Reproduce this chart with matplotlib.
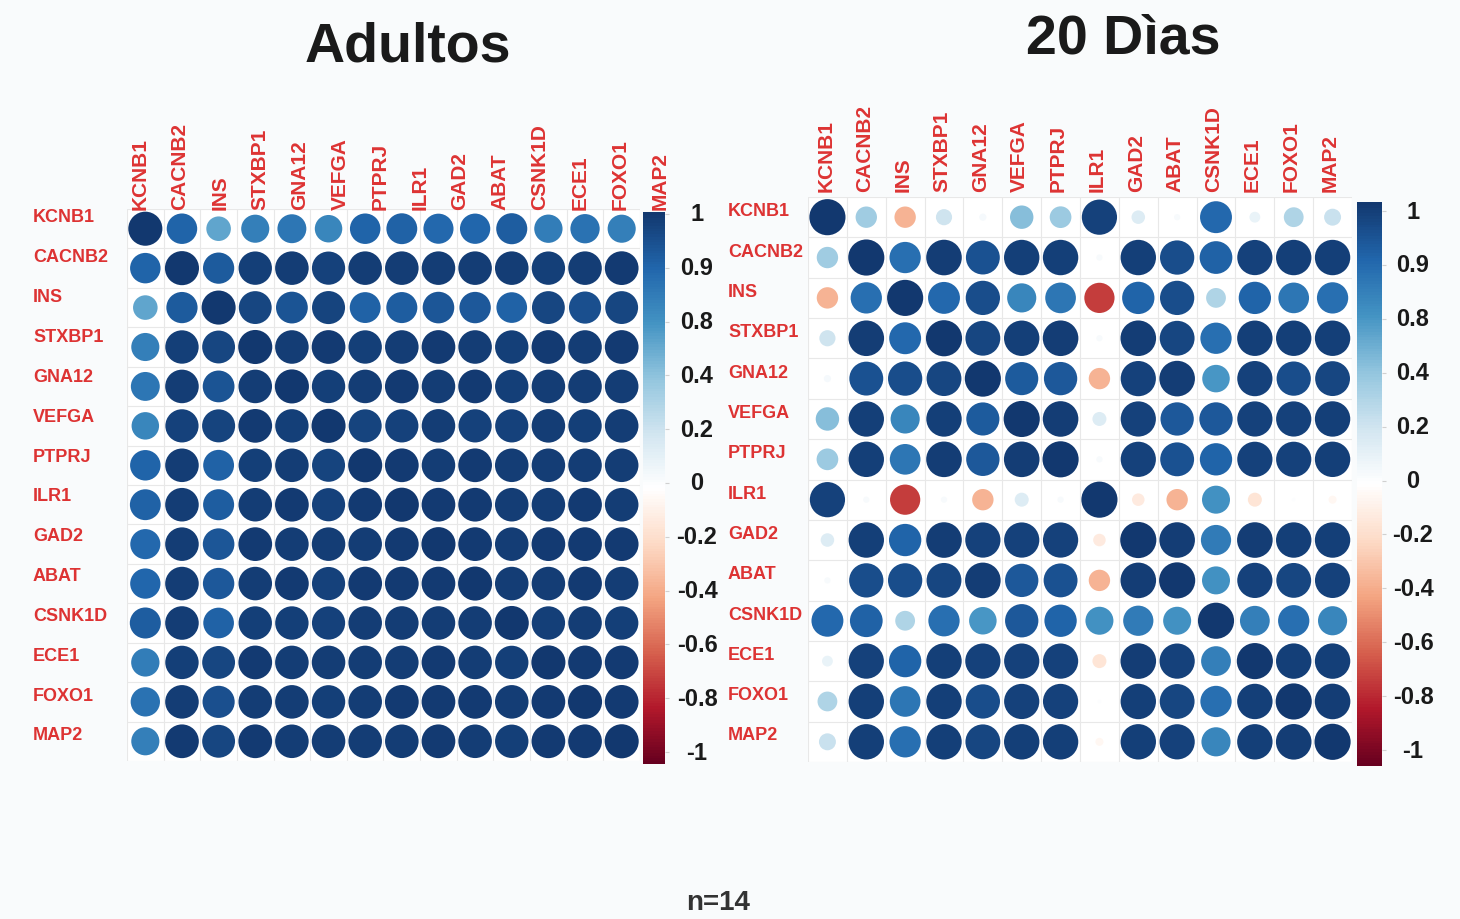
import numpy as np
import matplotlib
matplotlib.use("Agg")
import matplotlib.pyplot as plt
from matplotlib.colors import LinearSegmentedColormap, Normalize
from matplotlib.cm import ScalarMappable

# ---------------------------------------------------------------- data
genes = ["KCNB1", "CACNB2", "INS", "STXBP1", "GNA12", "VEFGA", "PTPRJ",
         "ILR1", "GAD2", "ABAT", "CSNK1D", "ECE1", "FOXO1", "MAP2"]

# Pearson correlations, adults
adultos = [
    [1.00, 0.80, 0.52, 0.68, 0.72, 0.65, 0.80, 0.82, 0.78, 0.79, 0.83, 0.69, 0.74, 0.68],
    [0.80, 1.00, 0.84, 0.96, 0.97, 0.95, 0.97, 0.97, 0.97, 0.97, 0.97, 0.96, 0.97, 0.98],
    [0.52, 0.84, 1.00, 0.93, 0.87, 0.94, 0.82, 0.83, 0.86, 0.85, 0.81, 0.93, 0.89, 0.93],
    [0.68, 0.96, 0.93, 1.00, 0.97, 0.98, 0.96, 0.97, 0.98, 0.97, 0.96, 0.98, 0.97, 0.98],
    [0.72, 0.97, 0.87, 0.97, 1.00, 0.96, 0.97, 0.98, 0.97, 0.98, 0.96, 0.97, 0.97, 0.97],
    [0.65, 0.95, 0.94, 0.98, 0.96, 1.00, 0.94, 0.95, 0.97, 0.95, 0.95, 0.97, 0.96, 0.97],
    [0.80, 0.97, 0.82, 0.96, 0.97, 0.94, 1.00, 0.98, 0.97, 0.98, 0.97, 0.97, 0.97, 0.97],
    [0.82, 0.97, 0.83, 0.97, 0.98, 0.95, 0.98, 1.00, 0.98, 0.98, 0.97, 0.97, 0.98, 0.97],
    [0.78, 0.97, 0.86, 0.98, 0.97, 0.97, 0.97, 0.98, 1.00, 0.98, 0.97, 0.98, 0.98, 0.98],
    [0.79, 0.97, 0.85, 0.97, 0.98, 0.95, 0.98, 0.98, 0.98, 1.00, 0.97, 0.97, 0.98, 0.97],
    [0.83, 0.97, 0.81, 0.96, 0.96, 0.95, 0.97, 0.97, 0.97, 0.97, 1.00, 0.96, 0.97, 0.96],
    [0.69, 0.96, 0.93, 0.98, 0.97, 0.97, 0.97, 0.97, 0.98, 0.97, 0.96, 1.00, 0.98, 0.98],
    [0.74, 0.97, 0.89, 0.97, 0.97, 0.96, 0.97, 0.98, 0.98, 0.98, 0.97, 0.98, 1.00, 0.98],
    [0.68, 0.98, 0.93, 0.98, 0.97, 0.97, 0.97, 0.97, 0.98, 0.97, 0.96, 0.98, 0.98, 1.00],
]

# Pearson correlations, 20 days
dias20 = [
    [1.00, 0.35, -0.35, 0.20, 0.04, 0.42, 0.36, 0.95, 0.14, 0.03, 0.78, 0.09, 0.30, 0.22],
    [0.35, 1.00, 0.75, 0.97, 0.88, 0.96, 0.96, 0.03, 0.96, 0.90, 0.82, 0.95, 0.96, 0.96],
    [-0.35, 0.75, 1.00, 0.78, 0.90, 0.65, 0.72, -0.70, 0.80, 0.90, 0.30, 0.80, 0.72, 0.75],
    [0.20, 0.97, 0.78, 1.00, 0.93, 0.96, 0.97, 0.03, 0.97, 0.93, 0.75, 0.96, 0.96, 0.96],
    [0.04, 0.88, 0.90, 0.93, 1.00, 0.84, 0.85, -0.35, 0.95, 0.97, 0.58, 0.95, 0.90, 0.93],
    [0.42, 0.96, 0.65, 0.96, 0.84, 1.00, 0.97, 0.15, 0.95, 0.85, 0.85, 0.95, 0.95, 0.96],
    [0.36, 0.96, 0.72, 0.97, 0.85, 0.97, 1.00, 0.03, 0.95, 0.88, 0.80, 0.95, 0.95, 0.96],
    [0.95, 0.03, -0.70, 0.03, -0.35, 0.15, 0.03, 1.00, -0.12, -0.35, 0.60, -0.15, 0.01, -0.05],
    [0.14, 0.96, 0.80, 0.97, 0.95, 0.95, 0.95, -0.12, 1.00, 0.97, 0.70, 0.97, 0.96, 0.96],
    [0.03, 0.90, 0.90, 0.93, 0.97, 0.85, 0.88, -0.35, 0.97, 1.00, 0.60, 0.95, 0.93, 0.95],
    [0.78, 0.82, 0.30, 0.75, 0.58, 0.85, 0.80, 0.60, 0.70, 0.60, 1.00, 0.68, 0.75, 0.65],
    [0.09, 0.95, 0.80, 0.96, 0.95, 0.95, 0.95, -0.15, 0.97, 0.95, 0.68, 1.00, 0.96, 0.96],
    [0.30, 0.96, 0.72, 0.96, 0.90, 0.95, 0.95, 0.01, 0.96, 0.93, 0.75, 0.96, 1.00, 0.97],
    [0.22, 0.96, 0.75, 0.96, 0.93, 0.96, 0.96, -0.05, 0.96, 0.95, 0.65, 0.96, 0.97, 1.00],
]

cbar_labels = ["1", "0.9", "0.8", "0.4", "0.2", "0", "-0.2", "-0.4", "-0.6", "-0.8", "-1"]

# ---------------------------------------------------------------- style
W, H = 1460, 920
BG = "#f9fbfc"
RED = "#dd3333"
FONT = ["Liberation Sans", "DejaVu Sans"]
plt.rcParams["font.family"] = FONT

cmap = LinearSegmentedColormap.from_list(
    "rdbu_corr",
    ["#67001F", "#B2182B", "#D6604D", "#F4A582", "#FDDBC7", "#FFFFFF",
     "#D1E5F0", "#92C5DE", "#4393C3", "#2166AC", "#12386f"], N=200)
norm = Normalize(-1, 1)

fig = plt.figure(figsize=(W / 100, H / 100), dpi=100, facecolor=BG)


def px_box(x0, y0, x1, y1):
    return [x0 / W, 1 - y1 / H, (x1 - x0) / W, (y1 - y0) / H]


def draw_panel(mat, box, cbox, row_x, row_y, col_x, col_bottom,
               tick_cx, tick_y):
    n = len(genes)
    vals = np.array(mat)
    ax = fig.add_axes(px_box(*box))
    ax.set_facecolor("white")
    ax.set_xlim(-0.5, n - 0.5)
    ax.set_ylim(n - 0.5, -0.5)
    for k in range(n + 1):
        ax.axhline(k - 0.5, color="#e8e8e8", lw=0.8, zorder=1)
        ax.axvline(k - 0.5, color="#e8e8e8", lw=0.8, zorder=1)
    ax.set_xticks([])
    ax.set_yticks([])
    for s in ax.spines.values():
        s.set_visible(False)

    # circle area proportional to |r|
    cw = (box[2] - box[0]) / n
    ch = (box[3] - box[1]) / n
    d_pt = 0.93 * min(cw, ch) * 72 / 100
    xx, yy = np.meshgrid(np.arange(n), np.arange(n))
    ax.scatter(xx.ravel(), yy.ravel(), s=d_pt ** 2 * np.abs(vals).ravel(),
               c=vals.ravel(), cmap=cmap, norm=norm, linewidths=0, zorder=2)

    # gene labels
    for i, g in enumerate(genes):
        y = row_y[0] + i * (row_y[1] - row_y[0]) / (n - 1)
        fig.text(row_x / W, 1 - y / H, g, ha="left", va="center",
                 color=RED, fontsize=13, fontweight="bold")
        x = col_x[0] + i * (col_x[1] - col_x[0]) / (n - 1)
        fig.text(x / W, 1 - col_bottom / H, g, ha="center", va="bottom",
                 rotation=90, color=RED, fontsize=15, fontweight="bold")

    # colour legend
    cax = fig.add_axes(px_box(*cbox))
    cb = fig.colorbar(ScalarMappable(norm=norm, cmap=cmap), cax=cax)
    cb.outline.set_visible(False)
    k = len(cbar_labels)
    ys = [tick_y[0] + j * (tick_y[1] - tick_y[0]) / (k - 1) for j in range(k)]
    # label heights in pixels converted to colourbar values
    pos = [1 - 2 * (y - cbox[1]) / (cbox[3] - cbox[1]) for y in ys]
    cb.set_ticks(pos)
    cax.tick_params(length=3, color="#d0d0d0", labelright=False)
    tx = (tick_cx - cbox[0]) / (cbox[2] - cbox[0])
    for p, lab in zip(pos, cbar_labels):
        cax.text(tx, p, lab, transform=cax.get_yaxis_transform(),
                 ha="center", va="center", fontsize=17, fontweight="bold",
                 color="#1a1a1a")
    return ax


draw_panel(adultos, (127, 210, 640, 762), (643, 213, 665, 765),
           row_x=33, row_y=(218, 736), col_x=(140, 660), col_bottom=210,
           tick_cx=697, tick_y=(215, 753))
draw_panel(dias20, (808, 198, 1352, 763), (1357, 203, 1382, 767),
           row_x=728, row_y=(212, 736), col_x=(826, 1330), col_bottom=192,
           tick_cx=1413, tick_y=(212, 751))

fig.text(408 / W, 1 - 48 / H, "Adultos", ha="center", va="center",
         fontsize=40, fontweight="bold", color="#1a1a1a")
fig.text(1123 / W, 1 - 40 / H, "20 Dìas", ha="center", va="center",
         fontsize=40, fontweight="bold", color="#1a1a1a")
fig.text(718 / W, 1 - 903 / H, "n=14", ha="center", va="center",
         fontsize=20, fontweight="bold", color="#333333")

fig.savefig("out.png", dpi=100, facecolor=BG)
